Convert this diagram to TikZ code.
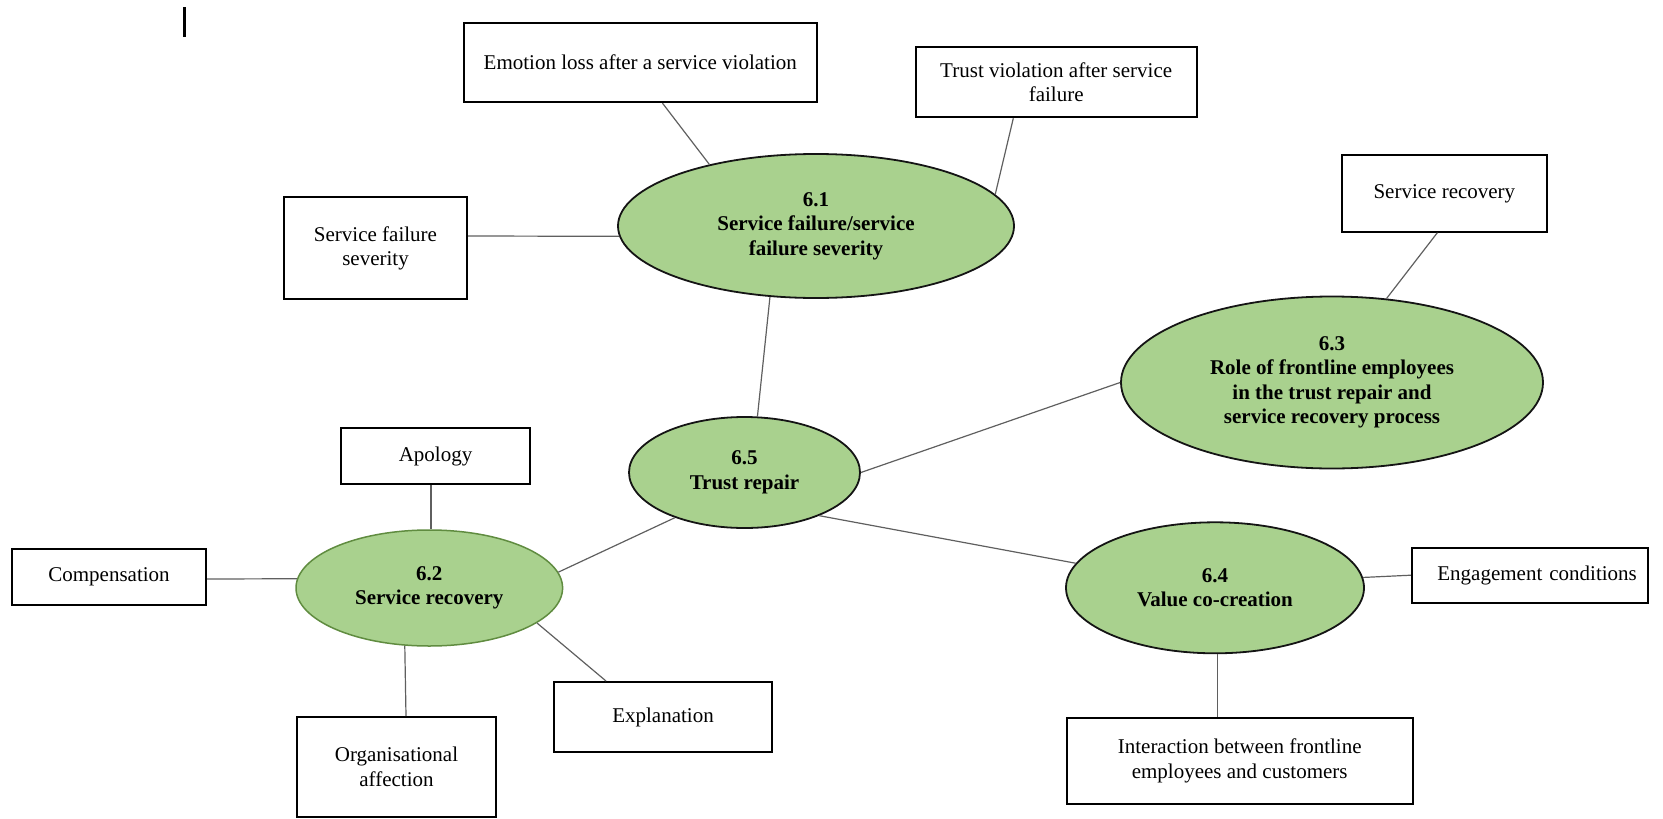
\documentclass[tikz,border=0pt]{standalone}
\usepackage{fontspec}
\setmainfont{Liberation Serif}
\usetikzlibrary{shapes.geometric}
\definecolor{topicfill}{RGB}{169,209,142}
\definecolor{topicedge}{RGB}{20,20,20}
\definecolor{recoveryedge}{RGB}{96,140,64}
\definecolor{linkgray}{RGB}{95,95,95}

\begin{document}
\begin{tikzpicture}[x=1pt,y=-1pt,
  every node/.style={font=\fontsize{21}{24.5}\selectfont},
  topic/.style={ellipse, draw=topicedge, line width=1.8pt, fill=topicfill,
    inner sep=0pt, align=center, font=\fontsize{21}{24.5}\selectfont\bfseries},
  item/.style={rectangle, draw=black, line width=2pt, inner sep=0pt, align=center},
  link/.style={draw=linkgray, line width=1.2pt}
]
\useasboundingbox (0,0) rectangle (1663,819);

% stray caret mark at the top left
\coordinate (caretTop) at (184.3,7);
\coordinate (caretBot) at (184.3,37);
\draw[line width=2.4pt] (caretTop) -- (caretBot);

% central themes
\node[topic, minimum width=396pt, minimum height=144pt] (e61) at (816,226)
  {6.1\\Service failure/service\\failure severity};
\node[topic, minimum width=422pt, minimum height=172pt] (e63) at (1332,382.5)
  {6.3\\Role of frontline employees\\in the trust repair and\\service recovery process};
\node[topic, minimum width=231pt, minimum height=111pt] (e65) at (744.5,472.5)
  {6.5\\Trust repair};
\node[topic, draw=recoveryedge, line width=1.5pt, minimum width=266.6pt, minimum height=116pt] (e62) at (429.3,588)
  {6.2\\Service recovery};
\node[topic, minimum width=298pt, minimum height=131pt] (e64) at (1215,587.8)
  {6.4\\Value co-creation};

% sub-topics
\node[item, minimum width=352.5pt, minimum height=79pt] (emo) at (640.25,62.7)
  {Emotion loss after a service violation};
\node[item, minimum width=281pt, minimum height=70.6pt] (tv) at (1056.2,82)
  {Trust violation after service\\failure};
\node[item, minimum width=183pt, minimum height=102pt] (sfs) at (375.5,248.3)
  {Service failure\\severity};
\node[item, minimum width=204.7pt, minimum height=76.7pt] (srb) at (1444.35,193.35)
  {Service recovery};
\node[item, minimum width=189pt, minimum height=56pt] (apo) at (435.5,456)
  {Apology};
\node[item, minimum width=194pt, minimum height=56pt] (comp) at (109,577)
  {Compensation};
\node[item, minimum width=218pt, minimum height=70pt] (expl) at (663,717)
  {Explanation};
\node[item, minimum width=199pt, minimum height=100pt] (org) at (396.5,767)
  {Organisational\\affection};
\node[item, minimum height=55pt, text width=214pt, inner xsep=11pt, align=right] (eng) at (1529.85,575.2)
  {Engagement conditions};
\node[item, minimum width=346pt, minimum height=86.3pt] (int) at (1239.7,760.8)
  {Interaction between frontline\\employees and customers};

% connectors
\draw[link] ([xshift=22.25pt]emo.south) -- (e61.150.8);
\draw[link] ([xshift=-42.9pt]tv.south) -- (e61.10.1);
\draw[link] ([yshift=12.3pt]sfs.east) -- (e61.183);
\draw[link] (e61.237.9) -- (e65.77.3);
\draw[link] ([xshift=-7pt]srb.south) -- (e63.57.3);
\draw[link] (e63.180.7) -- (e65.east);
\draw[link] (e65.330.7) -- (e64.170.4);
\draw[link] (e65.213.6) -- (e62.7.7);
\draw[link] ([xshift=-4.5pt]apo.south) -- ([xshift=1.7pt]e62.north);
\draw[link] ([yshift=-2pt]comp.east) -- (e62.176.1);
\draw[link] (e62.247.8) -- ([xshift=9.5pt]org.north);
\draw[link] (e62.342.3) -- ([xshift=-57pt]expl.north);
\draw[link] (e64.4) -- (eng.west);
\draw[link] ([xshift=2.7pt]e64.south) -- ([xshift=-22pt]int.north);
\end{tikzpicture}
\end{document}
